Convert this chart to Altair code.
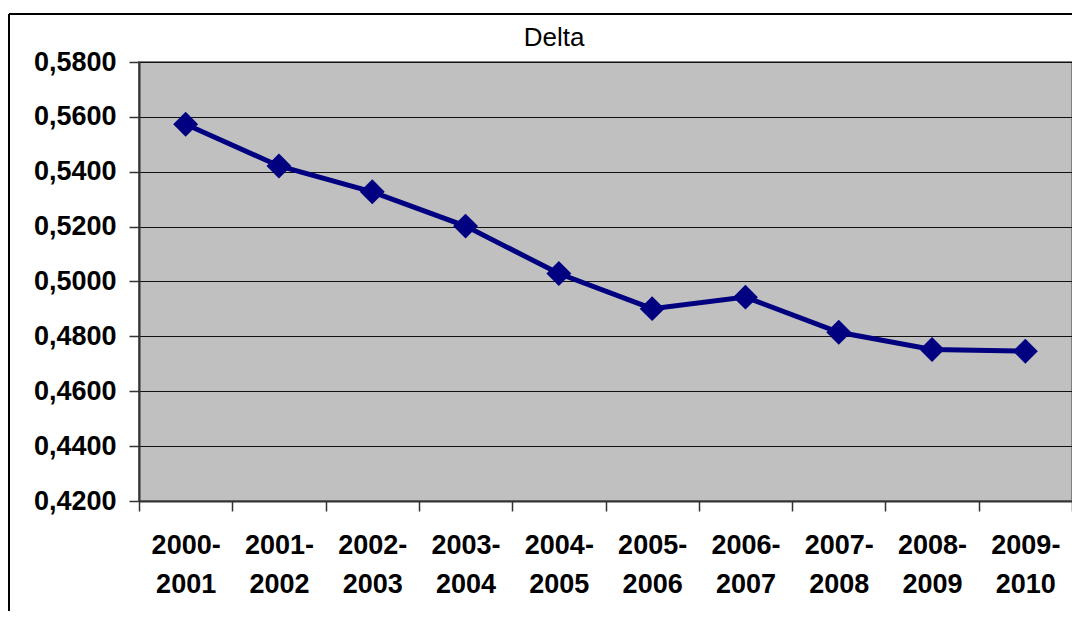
import altair as alt
import pandas as pd

periods = ["2000-2001", "2001-2002", "2002-2003", "2003-2004", "2004-2005",
           "2005-2006", "2006-2007", "2007-2008", "2008-2009", "2009-2010"]
delta = [0.5573, 0.5421, 0.5327, 0.5202, 0.5029, 0.4901, 0.4943, 0.4815, 0.4752, 0.4746]
y_ticks = [0.42, 0.44, 0.46, 0.48, 0.50, 0.52, 0.54, 0.56, 0.58]
chart_title = "Delta"

df = pd.DataFrame({"period": periods, "delta": delta})

FONT = "Liberation Sans"
NAVY = "#000080"

x_enc = alt.X(
    "period:N", sort=periods, title=None,
    scale=alt.Scale(type="band", paddingInner=0, paddingOuter=0),
    axis=alt.Axis(
        tickBand="extent", labelAngle=0,
        labelExpr="[slice(datum.label, 0, 5), slice(datum.label, 5)]",
        labelFont=FONT, labelFontSize=27, labelFontWeight="bold", labelColor="black",
        labelLineHeight=39, labelBaseline="top", labelPadding=21,
        tickSize=10, tickColor="#333333", tickWidth=1.5,
        domainColor="#333333", domainWidth=2, grid=False,
    ),
)
y_enc = alt.Y(
    "delta:Q", title=None,
    scale=alt.Scale(domain=[0.42, 0.58], nice=False, zero=False),
    axis=alt.Axis(
        values=y_ticks,
        labelExpr="replace(format(datum.value, '.4f'), '.', ',')",
        labelFont=FONT, labelFontSize=27, labelFontWeight="bold", labelColor="black",
        labelPadding=13, tickSize=10, tickColor="#333333", tickWidth=1.5,
        domainColor="#333333", domainWidth=2,
        grid=True, gridColor="#111111", gridWidth=1,
    ),
)

base = alt.Chart(df)
line = base.mark_line(color=NAVY, strokeWidth=5).encode(x=x_enc, y=y_enc)
pts = base.mark_point(shape="diamond", filled=True, size=620, color=NAVY, opacity=1).encode(x=x_enc, y=y_enc)

frame_df = pd.DataFrame({"a": [0]})
top_frame = alt.Chart(frame_df).mark_rule(color="black", strokeWidth=2).encode(
    x=alt.value(-130), x2=alt.value(1000), y=alt.value(-48))
left_frame = alt.Chart(frame_df).mark_rule(color="black", strokeWidth=2).encode(
    x=alt.value(-130), y=alt.value(-48), y2=alt.value(700))
title_txt = alt.Chart(frame_df).mark_text(
    text=chart_title, font=FONT, fontSize=26, fontWeight="normal", color="black",
    align="center", baseline="alphabetic").encode(x=alt.value(415), y=alt.value(-16))

chart = alt.layer(top_frame, left_frame, title_txt, line, pts).properties(
    width=933, height=439,
    padding={"left": 131, "top": 54, "right": 0, "bottom": 110},
    autosize="none",
    background="white",
).configure_view(fill="#C0C0C0", stroke="#808080", strokeWidth=2)

chart.save("out.html", embed_options={"renderer": "svg", "actions": False})
